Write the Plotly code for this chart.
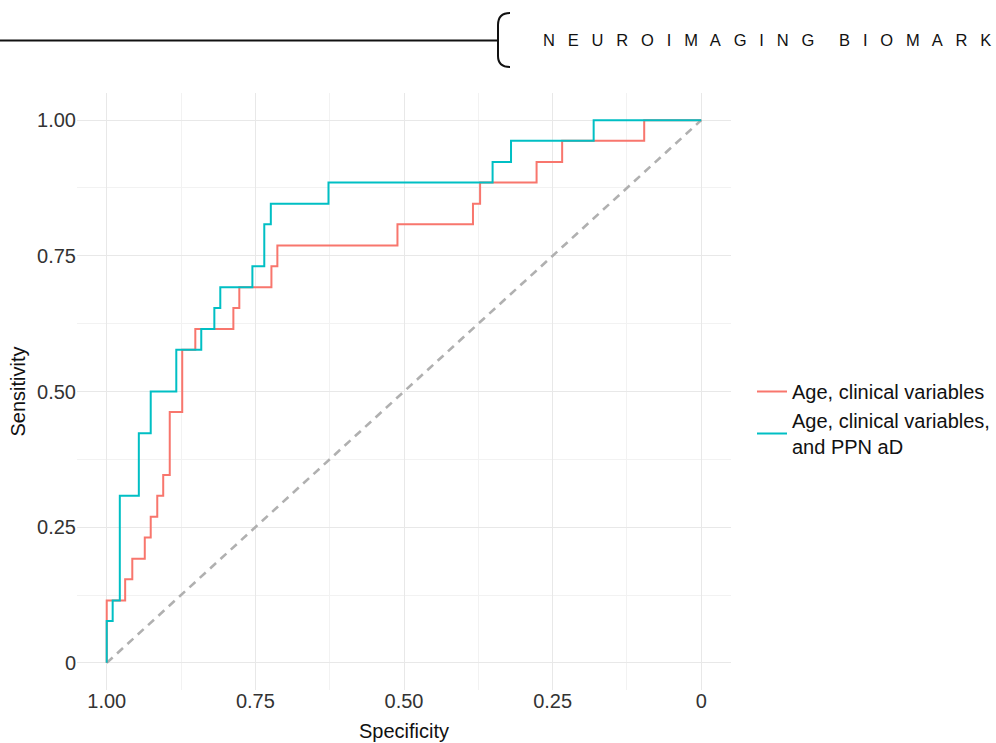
import plotly.graph_objects as go

# ---- data (specificity, sensitivity step points) ----
spec_clin = [1.000, 1.000, 0.969, 0.957, 0.936, 0.926, 0.915, 0.905, 0.894, 0.873,
             0.851, 0.787, 0.777, 0.723, 0.713, 0.511, 0.384, 0.372, 0.277, 0.234,
             0.096, 0.000]
sens_clin = [0.000, 0.115, 0.154, 0.192, 0.231, 0.269, 0.308, 0.346, 0.462, 0.577,
             0.615, 0.654, 0.692, 0.731, 0.769, 0.808, 0.846, 0.885, 0.923, 0.962,
             1.000, 1.000]

spec_ppn = [1.000, 1.000, 0.990, 0.978, 0.946, 0.926, 0.883, 0.841, 0.819, 0.809,
            0.755, 0.735, 0.724, 0.627, 0.351, 0.320, 0.181, 0.000]
sens_ppn = [0.000, 0.077, 0.115, 0.308, 0.423, 0.500, 0.577, 0.615, 0.654, 0.692,
            0.731, 0.808, 0.846, 0.885, 0.923, 0.962, 1.000, 1.000]

diag_spec = [1.0, 0.0]
diag_sens = [0.0, 1.0]

series_names = ["Age, clinical variables", "Age, clinical variables,<br>and PPN aD"]
series_colors = ["#F8766D", "#00BFC4"]

tick_vals = [1.0, 0.75, 0.5, 0.25, 0.0]
x_tick_text = ["1.00", "0.75", "0.50", "0.25", "0"]
y_tick_vals = [0.0, 0.25, 0.5, 0.75, 1.0]
y_tick_text = ["0", "0.25", "0.50", "0.75", "1.00"]

header_words = ["NEUROIMAGING", "BIOMARKERS"]

# ---- layout geometry ----
W, H = 996, 743
ML, MR, MT, MB = 77, 265, 93, 53
PW, PH = W - ML - MR, H - MT - MB


def px(x):
    return (x - ML) / PW


def py(y):
    return (H - MB - y) / PH


FONT = "Liberation Sans, Arial, sans-serif"

fig = go.Figure()
fig.add_trace(go.Scatter(x=diag_spec, y=diag_sens, mode="lines", showlegend=False,
                         line=dict(color="#b0b0b0", width=2.6, dash="8px,6px"),
                         hoverinfo="skip"))
fig.add_trace(go.Scatter(x=spec_clin, y=sens_clin, mode="lines", name=series_names[0],
                         line=dict(color=series_colors[0], width=2, shape="hv")))
fig.add_trace(go.Scatter(x=spec_ppn, y=sens_ppn, mode="lines", name=series_names[1],
                         line=dict(color=series_colors[1], width=2, shape="hv")))

grid_major = "#e8e8e8"
grid_minor = "#f2f2f2"

fig.update_xaxes(range=[1.05, -0.05], tickvals=tick_vals, ticktext=x_tick_text,
                 showgrid=True, gridcolor=grid_major, gridwidth=1.4, zeroline=False,
                 showline=False, ticks="", ticklabelstandoff=-3,
                 minor=dict(dtick=0.125, tick0=0, showgrid=True, gridcolor=grid_minor, gridwidth=0.8),
                 tickfont=dict(size=20, color="#333333", family=FONT),
                 title=dict(text="Specificity", font=dict(size=20, color="#111111", family=FONT),
                            standoff=12),
                 automargin=False)
fig.update_yaxes(range=[-0.05, 1.05], tickvals=y_tick_vals, ticktext=y_tick_text,
                 showgrid=True, gridcolor=grid_major, gridwidth=1.4, zeroline=False,
                 showline=False, ticks="",
                 minor=dict(dtick=0.125, tick0=0, showgrid=True, gridcolor=grid_minor, gridwidth=0.8),
                 tickfont=dict(size=20, color="#333333", family=FONT),
                 title=dict(text="Sensitivity", font=dict(size=20, color="#111111", family=FONT),
                            standoff=6),
                 automargin=False)

# header decoration: rule + brace + letter-spaced title (cut at the right edge as in the reference)
spaced = "\u2003\u2002".join("\u2002 ".join(list(w)) for w in header_words)
brace = (f"M {px(510)},{py(13)} Q {px(498)},{py(13)} {px(498)},{py(25)} "
         f"L {px(498)},{py(56)} Q {px(498)},{py(67)} {px(510)},{py(67)}")
fig.add_shape(type="line", xref="paper", yref="paper", x0=px(-5), x1=px(498),
              y0=py(40.5), y1=py(40.5), line=dict(color="#111111", width=2))
fig.add_shape(type="path", xref="paper", yref="paper", path=brace,
              line=dict(color="#111111", width=2))
fig.add_annotation(xref="paper", yref="paper", x=px(541), y=py(40), xanchor="left",
                   yanchor="middle", text=spaced, showarrow=False,
                   font=dict(size=16.5, color="#111111", family=FONT))

fig.update_layout(
    width=W, height=H,
    margin=dict(l=ML, r=MR, t=MT, b=MB, autoexpand=False),
    plot_bgcolor="white", paper_bgcolor="white",
    font=dict(family=FONT, size=20, color="#111111"),
    legend=dict(x=px(752), y=py(372), xanchor="left", yanchor="top",
                font=dict(size=20, color="#111111", family=FONT),
                bgcolor="rgba(0,0,0,0)", tracegroupgap=2),
    showlegend=True,
)

fig.write_html("out.html", config={"displayModeBar": False},
               post_script="document.body.style.margin='0';document.body.style.overflow='hidden';")
